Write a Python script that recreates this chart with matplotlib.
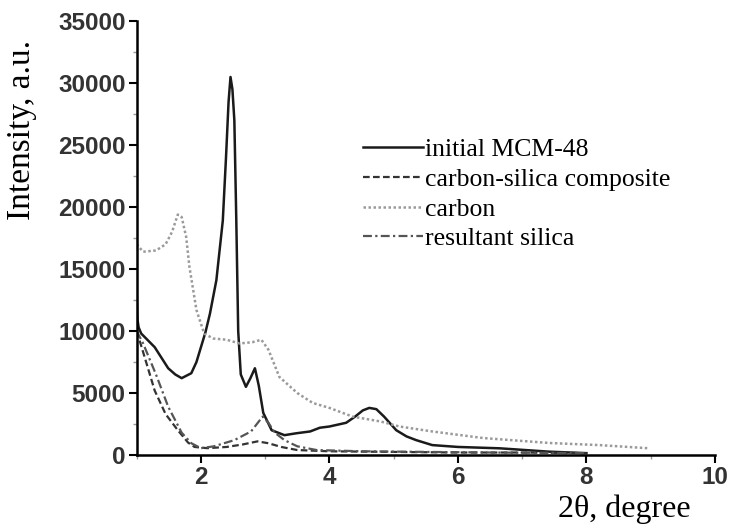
import matplotlib
matplotlib.use("Agg")
import matplotlib.pyplot as plt
from matplotlib.ticker import MultipleLocator

# initial MCM-48
mcm_x = [1.0, 1.01, 1.03, 1.07, 1.28, 1.49, 1.6, 1.7, 1.85, 1.93, 2.0, 2.07, 2.14, 2.24, 2.29, 2.34,
         2.39, 2.43, 2.46, 2.49, 2.52, 2.55, 2.58, 2.62, 2.7, 2.77, 2.84, 2.9, 2.97, 3.1, 3.3, 3.48,
         3.7, 3.85, 4.0, 4.26, 4.4, 4.52, 4.62, 4.73, 4.85, 5.04, 5.2, 5.35, 5.6, 6.0, 6.65, 7.42, 8.0]
mcm_y = [13000, 11000, 10300, 9800, 8700, 7000, 6500, 6200, 6600, 7500, 8700, 9900, 11400, 14100, 16500, 18900,
         24000, 28500, 30500, 29500, 27000, 19000, 10000, 6500, 5500, 6200, 7000, 5600, 3400, 2000, 1600, 1750,
         1900, 2200, 2300, 2600, 3100, 3600, 3800, 3700, 3100, 2000, 1500, 1200, 800, 650, 540, 270, 150]

# carbon-silica composite
csc_x = [1.0, 1.1, 1.28, 1.45, 1.64, 1.8, 1.9, 2.1, 2.4, 2.65, 2.88, 3.05, 3.25, 3.5, 4.0, 5.0, 6.0, 7.0, 8.0]
csc_y = [10000, 8300, 5200, 3300, 2000, 1000, 650, 550, 650, 850, 1100, 950, 650, 400, 300, 250, 200, 200, 150]

# carbon
carb_x = [1.0, 1.1, 1.3, 1.45, 1.55, 1.64, 1.7, 1.77, 1.82, 1.93, 2.05, 2.19, 2.4, 2.6, 2.8, 2.94, 3.05,
          3.22, 3.5, 3.74, 4.0, 4.36, 4.8, 5.09, 5.6, 6.39, 7.42, 8.2, 8.98]
carb_y = [17000, 16400, 16500, 17000, 18000, 19400, 19200, 17600, 15200, 11700, 9800, 9400, 9300, 9000, 9100, 9300, 8500,
          6300, 5000, 4200, 3800, 3100, 2700, 2300, 1900, 1370, 970, 800, 540]

# resultant silica
sil_x = [1.0, 1.1, 1.3, 1.49, 1.7, 1.85, 2.0, 2.2, 2.52, 2.78, 2.96, 3.05, 3.15, 3.3, 3.5, 3.8, 4.5, 5.5, 6.5, 8.0]
sil_y = [10000, 9000, 6500, 3900, 1800, 950, 550, 700, 1200, 1900, 3100, 2600, 1800, 1200, 700, 400, 300, 250, 200, 150]

fig = plt.figure(figsize=(7.31, 5.30), dpi=100)
ax = fig.add_axes([0.187, 0.1415, 0.791, 0.8185])

ax.plot(mcm_x, mcm_y, color='#1a1a1a', lw=1.8, ls='-', label='initial MCM-48')
ax.plot(csc_x, csc_y, color='#333333', lw=1.6, ls=(0, (3, 1.5)), label='carbon-silica composite')
ax.plot(carb_x, carb_y, color='#9a9a9a', lw=1.8, ls=(0, (1, 1)), label='carbon')
ax.plot(sil_x, sil_y, color='#555555', lw=1.6, ls=(0, (4, 1.5, 1, 1.5)), label='resultant silica')

ax.set_xlim(1, 10)
ax.set_ylim(0, 35000)
ax.spines['top'].set_visible(False)
ax.spines['right'].set_visible(False)
ax.spines['left'].set_linewidth(1.8)
ax.spines['bottom'].set_linewidth(1.8)

ax.xaxis.set_major_locator(MultipleLocator(2))
ax.xaxis.set_minor_locator(MultipleLocator(1))
ax.yaxis.set_major_locator(MultipleLocator(5000))
ax.yaxis.set_minor_locator(MultipleLocator(2500))
ax.tick_params(which='major', direction='out', length=6, width=1.5, labelsize=17.5, pad=2)
ax.tick_params(which='minor', direction='out', length=3, width=1, color='#999999')
for lab in ax.get_xticklabels() + ax.get_yticklabels():
    lab.set_family('Liberation Sans')
    lab.set_fontweight('bold')
    lab.set_color('#333333')

ax.set_ylabel('Intensity, a.u.', family='Liberation Serif', fontsize=24)
ax.yaxis.set_label_coords(-0.172, 0.749)
ax.set_xlabel('2θ, degree', family='Liberation Serif', fontsize=23)
ax.xaxis.set_label_coords(0.844, -0.09)

ax.legend(loc='upper left', bbox_to_anchor=(0.391, 0.73), frameon=False,
          prop={'family': 'Liberation Serif', 'size': 18.5}, handlelength=2.33,
          handletextpad=0.08, labelspacing=0.26, borderpad=0, borderaxespad=0)

plt.savefig('out.png', dpi=100)
plt.close()
